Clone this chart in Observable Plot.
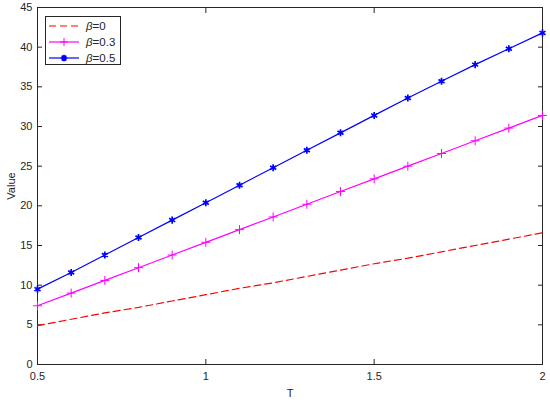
<!DOCTYPE html>
<html>
<head>
<meta charset="utf-8">
<script src="https://cdn.jsdelivr.net/npm/d3@7"></script>
<script src="https://cdn.jsdelivr.net/npm/@observablehq/plot@0.6"></script>
<style>
  html, body { margin: 0; padding: 0; background: #fff; }
  #wrap { position: relative; width: 550px; height: 402px; font-family: "Liberation Sans", Arial, sans-serif; }
  #legend { position: absolute; left: 45px; top: 16px; width: 76px; height: 49px; border: 1px solid #262626; background: #fff; box-sizing: border-box; font-size: 11.5px; color: #262626; }
  .row { position: absolute; left: 0; height: 16px; display: flex; align-items: center; }
  .row svg { margin-left: 3px; margin-right: 6px; }
</style>
</head>
<body>
<div id="wrap"><div id="chart"></div><div id="legend"></div></div>
<script>
const T = [0.5, 0.6, 0.7, 0.8, 0.9, 1.0, 1.1, 1.2, 1.3, 1.4, 1.5, 1.6, 1.7, 1.8, 1.9, 2.0];
const beta0 = [4.9, 5.7, 6.5, 7.2, 8.0, 8.8, 9.6, 10.3, 11.1, 11.9, 12.7, 13.4, 14.2, 15.0, 15.8, 16.6];
const beta03 = [7.4, 9.0, 10.6, 12.2, 13.8, 15.4, 17.0, 18.6, 20.2, 21.8, 23.4, 25.0, 26.6, 28.2, 29.8, 31.4];
const beta05 = [9.5, 11.6, 13.8, 16.0, 18.2, 20.4, 22.6, 24.8, 27.0, 29.2, 31.4, 33.6, 35.7, 37.8, 39.8, 41.8];
const seriesNames = ["0", "0.3", "0.5"];
const xTicks = [0.5, 1, 1.5, 2];
const yTicks = [0, 5, 10, 15, 20, 25, 30, 35, 40, 45];

const d0 = T.map((t, i) => ({T: t, v: beta0[i]}));
const d3s = T.map((t, i) => ({T: t, v: beta03[i]}));
const d5 = T.map((t, i) => ({T: t, v: beta05[i]}));

const axisColor = "#262626";
const chart = Plot.plot({
  width: 550,
  height: 402,
  marginLeft: 37,
  marginRight: 8,
  marginTop: 7,
  marginBottom: 38,
  style: {fontFamily: "Liberation Sans, Arial, sans-serif", fontSize: "11px", color: axisColor, background: "#fff"},
  x: {domain: [0.5, 2]},
  y: {domain: [0, 45]},
  marks: [
    Plot.frame({stroke: axisColor}),
    Plot.axisX({ticks: xTicks, tickSize: -5, tickPadding: 13, tickFormat: d => String(d), label: "T", labelAnchor: "center", labelArrow: "none", labelOffset: 32, stroke: axisColor}),
    Plot.axisX({anchor: "top", ticks: xTicks, tickSize: -5, tickFormat: () => "", label: null, stroke: axisColor}),
    Plot.axisY({ticks: yTicks, tickSize: -5, tickPadding: 10, label: "Value", labelAnchor: "center", labelArrow: "none", labelOffset: 30, stroke: axisColor}),
    Plot.axisY({anchor: "right", ticks: yTicks, tickSize: -5, tickFormat: () => "", label: null, stroke: axisColor}),
    Plot.line(d0, {x: "T", y: "v", stroke: "#ff0000", strokeWidth: 1.2, strokeDasharray: "7,4"}),
    Plot.line(d3s, {x: "T", y: "v", stroke: "#ff00ff", strokeWidth: 1.2}),
    Plot.dot(d3s, {x: "T", y: "v", symbol: "plus", stroke: "#ff00ff", r: 3, strokeWidth: 1}),
    Plot.line(d5, {x: "T", y: "v", stroke: "#0000ff", strokeWidth: 1.2}),
    Plot.dot(d5, {x: "T", y: "v", symbol: "asterisk", stroke: "#0000ff", r: 3.3, strokeWidth: 1.7})
  ]
});
document.getElementById("chart").appendChild(chart);

const legend = document.getElementById("legend");
const items = [
  {name: seriesNames[0], color: "#ff0000", dash: "7,4", marker: null},
  {name: seriesNames[1], color: "#ff00ff", dash: null, marker: "plus"},
  {name: seriesNames[2], color: "#0000ff", dash: null, marker: "star"}
];
items.forEach((it, i) => {
  const row = document.createElement("div");
  row.className = "row";
  row.style.top = (1 + i * 16) + "px";
  let m = "";
  if (it.marker === "plus") m = `<path d="M15,4V12M11,8H19" stroke="${it.color}" stroke-width="1"/>`;
  if (it.marker === "star") m = `<path d="M15,4.7V11.3M11.7,8H18.3M12.7,5.7L17.3,10.3M17.3,5.7L12.7,10.3" stroke="${it.color}" stroke-width="1.7"/>`;
  row.innerHTML = `<svg width="31" height="16"><line x1="0" x2="30" y1="8" y2="8" stroke="${it.color}" stroke-width="1.2" ${it.dash ? `stroke-dasharray="${it.dash}"` : ""}/>${m}</svg><span><i>β</i>=${it.name}</span>`;
  legend.appendChild(row);
});
</script>
</body>
</html>
